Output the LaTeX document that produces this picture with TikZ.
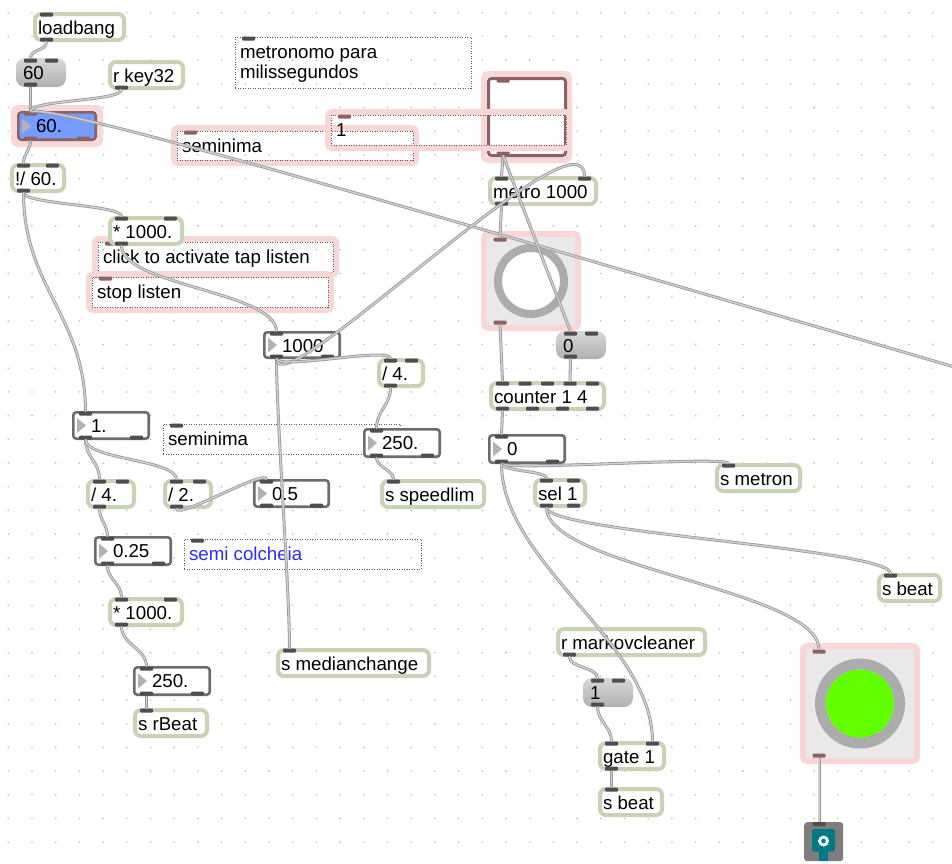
\documentclass[tikz,border=0pt]{standalone}
\usepackage{fontspec}
\setmainfont{Liberation Sans}
\usetikzlibrary{calc}

% palette of the patcher
\definecolor{objedge}{RGB}{200,211,182}
\definecolor{tabc}{RGB}{78,78,78}
\definecolor{seltab}{RGB}{140,98,98}
\definecolor{numedge}{RGB}{108,108,108}
\definecolor{seledge}{RGB}{138,100,100}
\definecolor{glow}{RGB}{250,215,215}
\definecolor{cordout}{RGB}{152,152,152}
\definecolor{cordin}{RGB}{208,208,208}
\definecolor{numfill}{RGB}{118,156,255}
\definecolor{ledgreen}{RGB}{98,255,0}
\definecolor{ringgray}{RGB}{172,172,172}
\definecolor{bangbg}{RGB}{233,233,233}
\definecolor{tealc}{RGB}{0,122,130}
\definecolor{notecol}{RGB}{45,45,255}
\definecolor{griddot}{RGB}{188,188,188}
\definecolor{arrowgray}{RGB}{178,178,178}
\definecolor{msgtop}{RGB}{216,216,216}
\definecolor{msgbot}{RGB}{176,176,176}
\definecolor{widgetgray}{RGB}{125,125,125}
\definecolor{dotedge}{RGB}{90,90,90}

\tikzset{
  objbox/.style={draw=objedge, line width=4pt, fill=white, rounded corners=6pt,
    minimum height=26pt, inner sep=0pt, outer sep=0pt},
  numbox/.style={draw=numedge, line width=2.6pt, fill=white, rounded corners=3pt,
    inner sep=0pt, outer sep=0pt},
  msgbox/.style={top color=msgtop, bottom color=msgbot, rounded corners=9pt,
    inner sep=0pt, outer sep=0pt},
  combox/.style={draw=dotedge, line width=0.8pt, dash pattern=on 1pt off 1.5pt,
    inner sep=0pt, outer sep=0pt},
  togbox/.style={draw=seledge, line width=3pt, fill=white, rounded corners=3pt,
    minimum size=77pt, inner sep=0pt, outer sep=0pt, anchor=north west},
  bangsq/.style={fill=bangbg, inner sep=0pt, outer sep=0pt, anchor=north west},
  tab/.style={rectangle, minimum width=13pt, minimum height=4pt, inner sep=0pt,
    outer sep=0pt, rounded corners=1pt, fill=tabc},
  txt/.style={anchor=base west, inner sep=0pt, outer sep=0pt,
    font=\fontsize{18.7pt}{20.5pt}\selectfont, text=black},
  cord/.style={draw=cordout, line width=0.8pt, double=cordin, double distance=1.4pt},
  glowband/.style={draw=glow, line width=6pt, rounded corners=4pt},
}

% inlets and outlets: name, x, y, w, h, #in, #out, colour
\newcommand\mxports[8]{%
  \ifnum#6>0
    \foreach \k in {1,...,#6}{%
      \ifnum#6=1 \pgfmathsetmacro\px{#2+13.5}\else
        \pgfmathsetmacro\px{#2+13.5+(\k-1)*(#4-27)/(#6-1)}\fi
      \node[tab,fill=#8] (#1-i\k) at (\px,#3+2.5) {};}%
  \fi
  \ifnum#7>0
    \foreach \k in {1,...,#7}{%
      \ifnum#7=1 \pgfmathsetmacro\px{#2+13.5}\else
        \pgfmathsetmacro\px{#2+13.5+(\k-1)*(#4-27)/(#7-1)}\fi
      \node[tab,fill=#8] (#1-o\k) at (\px,#3+#5-2.5) {};}%
  \fi}

% object box: name, x, y, w, #in, #out, text
\newcommand\mobj[7]{%
  \pgfmathsetmacro\bw{#4-4}%
  \node[objbox, minimum width=\bw pt, anchor=north west] (#1) at (#2+2,#3+2) {};
  \node[txt] (#1-t) at (#2+5,#3+22) {#7};
  \mxports{#1}{#2}{#3}{#4}{30}{#5}{#6}{tabc}}

% number box: name, x, y, w, h, text, extra style, tab colour
\newcommand\mnum[8]{%
  \pgfmathsetmacro\bw{#4-2.6}\pgfmathsetmacro\bh{#5-2.6}%
  \node[numbox, minimum width=\bw pt, minimum height=\bh pt, anchor=north west, #7]
    (#1) at (#2+1.3,#3+1.3) {};
  \fill[arrowgray] (#2+5,#3+#5/2-7.5) -- ++(9,7.5) -- ++(-9,7.5) -- cycle;
  \node[txt] (#1-t) at (#2+19,#3+21.5) {#6};
  \mxports{#1}{#2}{#3}{#4}{#5}{1}{2}{#8}}

% message box: name, x, y, w, h, text
\newcommand\mmsg[6]{%
  \node[msgbox, minimum width=#4pt, minimum height=#5pt, anchor=north west] (#1) at (#2,#3) {};
  \node[txt] (#1-t) at (#2+7,#3+21) {#6};
  \mxports{#1}{#2+1}{#3}{#4-2}{#5}{2}{1}{tabc}}

% comment: name, x, y, w, h, text, tab colour
\newcommand\mcom[7]{%
  \node[combox, minimum width=#4pt, minimum height=#5pt, anchor=north west] (#1) at (#2,#3) {};
  \node[tab, fill=#7] (#1-i1) at (#2+13.5,#3+1.5) {};
  \node[txt] (#1-t) at (#2+5,#3+21) {#6};}

% selection halo: x1, y1, x2, y2
\newcommand\glowbox[4]{\draw[glowband] (#1-3,#2-3) rectangle (#3+3,#4+3);}

\begin{document}
\begin{tikzpicture}[x=1pt,y=-1pt]
\useasboundingbox (0,0) rectangle (952,863);
\clip (0,0) rectangle (952,863);
\fill[white] (0,0) rectangle (952,863);

% patcher grid
\foreach \i in {0,...,39}
  \foreach \j in {0,...,35}
    \fill[griddot] (8.3+23.7*\i,12.7+23.7*\j) circle[radius=0.9pt];

% ---- top left: tempo input
\mobj{loadbang}{33}{12}{93}{1}{1}{loadbang}
\mmsg{m60}{16}{58}{50}{29}{60}
\mobj{rkey}{108}{60}{77}{0}{1}{r key32}
\glowbox{17}{111}{97}{141}
\mnum{n60}{17}{111}{80}{30}{60.}{draw=seledge,fill=numfill}{seltab}
\mobj{div60}{10}{163}{56}{2}{1}{!/ 60.}

% ---- comments at the top
\mcom{cmetro}{235}{37}{236}{51}{metronomo para}{tabc}
\node[txt] (cmetro-t2) at (240,78) {milissegundos};
\glowbox{177}{131}{413}{160}
\mcom{csemiA}{177}{131}{236}{29}{seminima}{seltab}

% ---- toggle
\glowbox{487}{77}{566}{157}
\node[togbox] (tog) at (488.5,78.5) {};
\node[tab,fill=seltab] (tog-i1) at (503,80.5) {};
\node[tab,fill=seltab] (tog-o1) at (503,153.5) {};
\glowbox{331}{115}{566}{145}
\mcom{cone}{331}{115}{235}{30}{1}{seltab}

\mobj{metro}{488}{176}{110}{2}{1}{metro 1000}
\glowbox{98}{242}{333}{272}
\mcom{cclick}{98}{242}{235}{30}{click to activate tap listen}{seltab}
\glowbox{92}{277}{328}{307}
\mcom{cstop}{92}{277}{236}{30}{stop listen}{seltab}
\mobj{mul1}{108}{216}{76}{2}{1}{* 1000.}

% ---- bang after metro
\glowbox{487}{237}{575}{325}
\node[bangsq, minimum size=88pt] (bang1) at (487,237) {};
\fill[white] (bang1.center) circle[radius=29pt];
\draw[ringgray, line width=8pt] (bang1.center) circle[radius=33pt];
\node[tab,fill=seltab] (bang1-i1) at (500,239.5) {};
\node[tab,fill=seltab] (bang1-o1) at (500,322.5) {};

\mmsg{m0}{556}{331}{50}{28}{0}
\mnum{n1000}{263}{331}{78}{28}{1000}{}{tabc}
\mobj{div4a}{377}{358}{48}{2}{1}{/ 4.}
\mobj{counter}{489}{381}{117}{5}{4}{counter 1 4}
\mnum{n1}{72}{411}{78}{29}{1.}{}{tabc}
\mcom{csemiB}{163}{424}{237}{30}{seminima}{tabc}
\mnum{n250a}{363}{428}{78}{30}{250.}{}{tabc}
\mnum{n0}{488}{434}{78}{30}{0}{}{tabc}
\mobj{smetron}{715}{463}{87}{1}{0}{s metron}
\mobj{div4b}{86}{479}{50}{2}{1}{/ 4.}
\mobj{div2}{163}{479}{50}{2}{1}{/ 2.}
\mnum{n05}{253}{479}{77}{29}{0.5}{}{tabc}
\mobj{speedlim}{380}{479}{106}{1}{0}{s speedlim}
\mobj{sel}{533}{478}{54}{2}{2}{sel 1}
\mnum{n025}{94}{536}{78}{30}{0.25}{}{tabc}
\mcom{ccolch}{184}{539}{237}{30}{\textcolor{notecol}{semi colcheia}}{tabc}
\mobj{sbeatA}{877}{573}{65}{1}{0}{s beat}
\mobj{mul2}{108}{597}{76}{2}{1}{* 1000.}
\mobj{rmarkov}{556}{627}{151}{0}{1}{r markovcleaner}
\mobj{smed}{276}{648}{155}{1}{0}{s medianchange}
\mnum{n250b}{133}{666}{78}{30}{250.}{}{tabc}
\mmsg{m1}{583}{678}{50}{29}{1}
\mobj{srbeat}{133}{708}{76}{1}{0}{s rBeat}
\mobj{gate}{598}{741}{68}{2}{1}{gate 1}
\mobj{sbeatB}{598}{787}{66}{1}{0}{s beat}

% ---- green beat indicator
\glowbox{806}{649}{914}{758}
\node[bangsq, minimum width=108pt, minimum height=109pt] (bang2) at (806,649) {};
\draw[ringgray, line width=11pt] (bang2.center) circle[radius=39.5pt];
\fill[ledgreen] (bang2.center) circle[radius=34pt];
\node[tab,fill=seltab] (bang2-i1) at (819,651.5) {};
\node[tab,fill=seltab] (bang2-o1) at (819,755.5) {};

% ---- small control at the bottom
\node[fill=widgetgray, rounded corners=3pt, minimum width=39pt, minimum height=39pt,
  inner sep=0pt, anchor=north west] (ctl) at (804,822) {};
\fill[tealc, rounded corners=2pt] (812,829) rectangle (835,851.5);
\fill[tealc] (819,850) rectangle (828,861);
\fill[white] (823.5,841) circle[radius=5.5pt];
\fill[tealc] (823.5,841) circle[radius=2.3pt];
\node[tab] (ctl-i1) at (819,824) {};

% ---- patch cords
\coordinate (offr) at (958,368);
\draw[cord] (offr) .. controls (400,205) and (60,105) .. (n60-i1.north);
\draw[cord] (loadbang-o1.south) .. controls +(0,10) and +(0,-10) .. (m60-i1.north);
\draw[cord] (m60-o1.south) -- (n60-i1.north);
\draw[cord] (rkey-o1.south) .. controls +(0,12) and +(0,-12) .. (n60-i1.north);
\draw[cord] (n60-o1.south) .. controls +(0,10) and +(0,-10) .. (div60-i1.north);
\draw[cord] (div60-o1.south) .. controls +(0,12) and +(0,-12) .. (mul1-i1.north);
\draw[cord] (div60-o1.south) .. controls +(0,95) and +(0,-95) .. (n1-i1.north);
\draw[cord] (mul1-o1.south) .. controls +(0,40) and +(0,-40) .. (n1000-i1.north);
\draw[cord] (n1000-o1.south) .. controls +(0,60) and +(0,-60) .. (smed-i1.north);
\draw[cord] (n1000-o1.south) .. controls +(0,52) and +(0,-76) .. (metro-i2.north);
\draw[cord] (n1000-o1.south) .. controls +(0,12) and +(0,-12) .. (div4a-i1.north);
\draw[cord] (div4a-o1.south) .. controls +(0,18) and +(0,-18) .. (n250a-i1.north);
\draw[cord] (n250a-o1.south) .. controls +(0,10) and +(0,-10) .. (speedlim-i1.north);
\draw[cord] (tog-o1.south) -- (metro-i1.north);
\draw[cord] (tog-o1.south) -- (m0-i1.north);
\draw[cord] (metro-o1.south) -- (bang1-i1.north);
\draw[cord] (bang1-o1.south) -- (counter-i1.north);
\draw[cord] (m0-o1.south) -- (counter-i4.north);
\draw[cord] (counter-o1.south) -- (n0-i1.north);
\draw[cord] (n0-o1.south) .. controls +(0,8) and +(0,-8) .. (smetron-i1.north);
\draw[cord] (n0-o1.south) .. controls +(0,8) and +(0,-8) .. (sel-i1.north);
\draw[cord] (n0-o1.south) .. controls +(0,100) and +(0,-100) .. (gate-i2.north);
\draw[cord] (sel-o1.south) .. controls +(0,25) and +(0,-25) .. (sbeatA-i1.north);
\draw[cord] (sel-o1.south) .. controls +(0,60) and +(0,-60) .. (bang2-i1.north);
\draw[cord] (rmarkov-o1.south) .. controls +(0,12) and +(0,-12) .. (m1-i1.north);
\draw[cord] (m1-o1.south) .. controls +(0,15) and +(0,-15) .. (gate-i1.north);
\draw[cord] (gate-o1.south) -- (sbeatB-i1.north);
\draw[cord] (bang2-o1.south) -- (ctl-i1.north);
\draw[cord] (n1-o1.south) .. controls +(0,18) and +(0,-18) .. (div4b-i1.north);
\draw[cord] (n1-o1.south) .. controls +(0,20) and +(0,-20) .. (div2-i1.north);
\draw[cord] (div2-o1.south) .. controls +(0,12) and +(0,-12) .. (n05-i1.north);
\draw[cord] (div4b-o1.south) .. controls +(0,12) and +(0,-12) .. (n025-i1.north);
\draw[cord] (n025-o1.south) .. controls +(0,14) and +(0,-14) .. (mul2-i1.north);
\draw[cord] (mul2-o1.south) .. controls +(0,18) and +(0,-18) .. (n250b-i1.north);
\draw[cord] (n250b-o1.south) -- (srbeat-i1.north);
\end{tikzpicture}
\end{document}
